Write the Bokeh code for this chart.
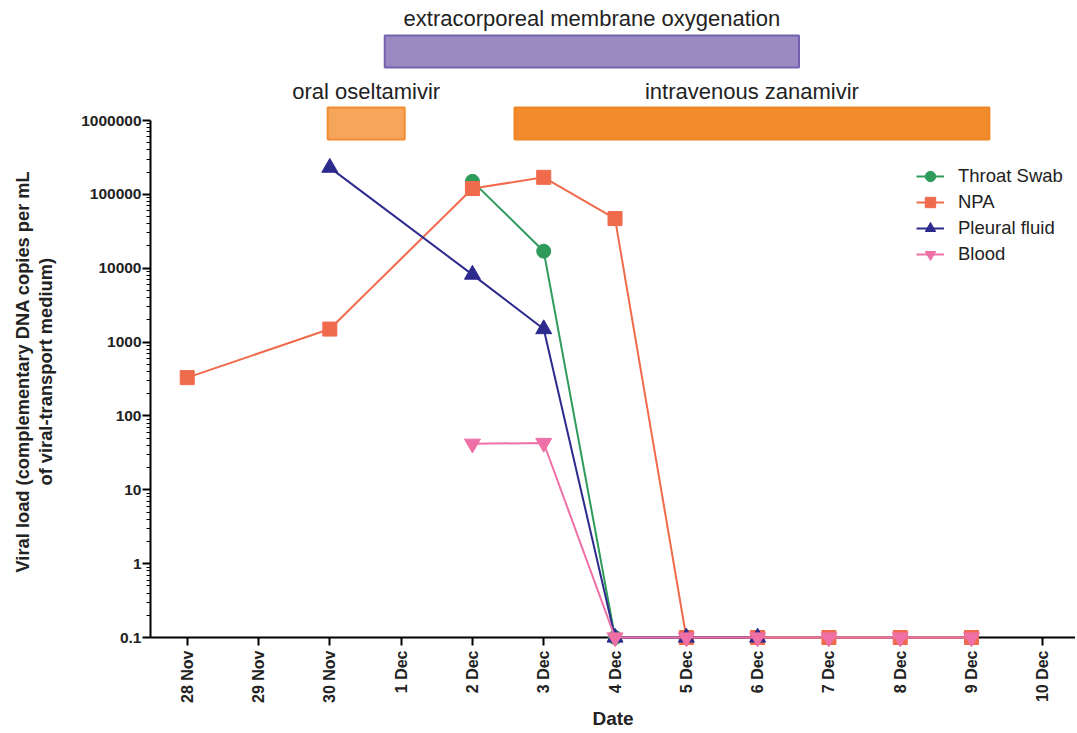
import math
from bokeh.plotting import figure
from bokeh.models import FixedTicker, NumeralTickFormatter, Legend, LegendItem, Range1d, Title
from bokeh.core.properties import value
from bokeh.embed import file_html
from bokeh.resources import INLINE

# ---------------- data ----------------
dates = ["28 Nov", "29 Nov", "30 Nov", "1 Dec", "2 Dec", "3 Dec", "4 Dec",
         "5 Dec", "6 Dec", "7 Dec", "8 Dec", "9 Dec", "10 Dec"]

throat_dates = ["2 Dec", "3 Dec", "4 Dec"]
throat_vals = [150000, 17000, 0.1]

npa_dates = ["28 Nov", "30 Nov", "2 Dec", "3 Dec", "4 Dec", "5 Dec", "6 Dec",
             "7 Dec", "8 Dec", "9 Dec"]
npa_vals = [330, 1500, 120000, 170000, 47000, 0.1, 0.1, 0.1, 0.1, 0.1]

pleural_dates = ["30 Nov", "2 Dec", "3 Dec", "4 Dec", "5 Dec", "6 Dec"]
pleural_vals = [230000, 8200, 1500, 0.1, 0.1, 0.1]

blood_dates = ["2 Dec", "3 Dec", "4 Dec", "5 Dec", "6 Dec", "7 Dec", "8 Dec", "9 Dec"]
blood_vals = [42, 43, 0.1, 0.1, 0.1, 0.1, 0.1, 0.1]

y_ticks = [0.1, 1, 10, 100, 1000, 10000, 100000, 1000000]

treat_names = ["oral oseltamivir", "intravenous zanamivir", "extracorporeal membrane oxygenation"]
treat_start = [1.97, 4.59, 2.77]   # in day index units
treat_end = [3.05, 11.25, 8.58]

y_label_lines = ["Viral load (complementary DNA copies per mL", "of viral-transport medium)"]

# ---------------- figure ----------------
FONT = "Liberation Sans"
idx = {d: i for i, d in enumerate(dates)}

p = figure(width=1075, height=731, output_backend="svg", toolbar_location=None,
           y_axis_type="log",
           x_range=Range1d(-0.515, 12.458), y_range=Range1d(0.1, 4.215e7),
           min_border_left=150, min_border_right=0, min_border_top=0,
           min_border_bottom=94)
p.outline_line_color = None
p.grid.visible = False
p.background_fill_color = "white"
p.border_fill_color = "white"

# x axis
xa = p.xaxis[0]
xa.ticker = FixedTicker(ticks=list(range(len(dates))))
xa.major_label_overrides = {i: d for i, d in enumerate(dates)}
xa.major_label_orientation = math.pi / 2
xa.major_label_text_font = FONT
xa.major_label_text_font_style = "bold"
xa.major_label_text_font_size = "16px"
xa.major_label_text_color = "#222222"
xa.major_label_standoff = 5
xa.major_tick_out = 8
xa.major_tick_in = 0
xa.minor_tick_out = 0
xa.minor_tick_in = 0
xa.axis_line_width = 2
xa.major_tick_line_width = 2
xa.axis_label = "Date"
xa.axis_label_text_font = FONT
xa.axis_label_text_font_style = "bold"
xa.axis_label_text_font_size = "19px"
xa.axis_label_text_color = "#222222"
xa.axis_label_standoff = 2

# y axis
ya = p.yaxis[0]
minor = []
for e in range(-1, 6):
    for m in range(2, 10):
        minor.append(m * 10 ** e)
ya.ticker = FixedTicker(ticks=y_ticks, minor_ticks=minor)
ya.formatter = NumeralTickFormatter(format="0.[0]")
ya.bounds = (0.1, 1000000)
ya.major_label_text_font = FONT
ya.major_label_text_font_style = "bold"
ya.major_label_text_font_size = "15.5px"
ya.major_label_text_color = "#222222"
ya.major_label_standoff = 1
ya.major_tick_out = 8
ya.major_tick_in = 0
ya.minor_tick_out = 4
ya.minor_tick_in = 0
ya.axis_line_width = 2
ya.major_tick_line_width = 2
ya.minor_tick_line_width = 1

# y axis title: spacer, then two lines as side titles (inner line first)
title_kw = dict(text_font=FONT, text_font_style="bold", text_font_size="18.3px",
                text_color="#222222")
p.add_layout(Title(text="\u00a0", align="left", offset=0, standoff=0, **title_kw), "left")
p.add_layout(Title(text=y_label_lines[1], align="left", offset=152, standoff=0,
                   **title_kw), "left")
p.add_layout(Title(text=y_label_lines[0], align="left", offset=65, standoff=0,
                   **title_kw), "left")

# treatment bars
row_low = (5.53e5, 1.5e6)
row_high = (5.22e6, 1.416e7)
fills = ["#F6A55A", "#F28B2B", "#9B89C1"]
borders = ["#F28C30", "#EE8625", "#7462AE"]
for i, name in enumerate(treat_names):
    b, t = row_high if i == 2 else row_low
    p.quad(left=[treat_start[i]], right=[treat_end[i]], bottom=[b], top=[t],
           fill_color=fills[i], line_color=borders[i], line_width=2)
    ty = 2.4e7 if i == 2 else 2.47e6
    p.text(x=[(treat_start[i] + treat_end[i]) / 2], y=[ty], text=[name],
           text_align="center", text_baseline="middle",
           text_font=value(FONT), text_font_size="22px", text_color="#222222")

# series
series = [
    ("Throat Swab", throat_dates, throat_vals, "#2E9B5B", "circle", 14),
    ("NPA", npa_dates, npa_vals, "#F06A4C", "square", 14),
    ("Pleural fluid", pleural_dates, pleural_vals, "#2D2A8E", "triangle", 16),
    ("Blood", blood_dates, blood_vals, "#EE70A6", "inverted_triangle", 16),
]
items = []
for name, ds, vs, col, mk, sz in series:
    xs = [idx[d] for d in ds]
    lr = p.line(xs, vs, line_color=col, line_width=2, level="overlay")
    sr = p.scatter(xs, vs, marker=mk, size=sz, fill_color=col, line_color=col,
                   level="overlay")
    items.append(LegendItem(label=name, renderers=[lr, sr]))

legend = Legend(items=items, location=(766, 370), padding=0, margin=0,
                border_line_color=None, background_fill_alpha=0,
                label_text_font=FONT, label_text_font_size="18.5px",
                label_text_color="#222222",
                label_height=22, glyph_height=26, glyph_width=28,
                label_standoff=14, spacing=0)
p.add_layout(legend, "center")

open("out.html", "w").write(file_html(p, INLINE))
